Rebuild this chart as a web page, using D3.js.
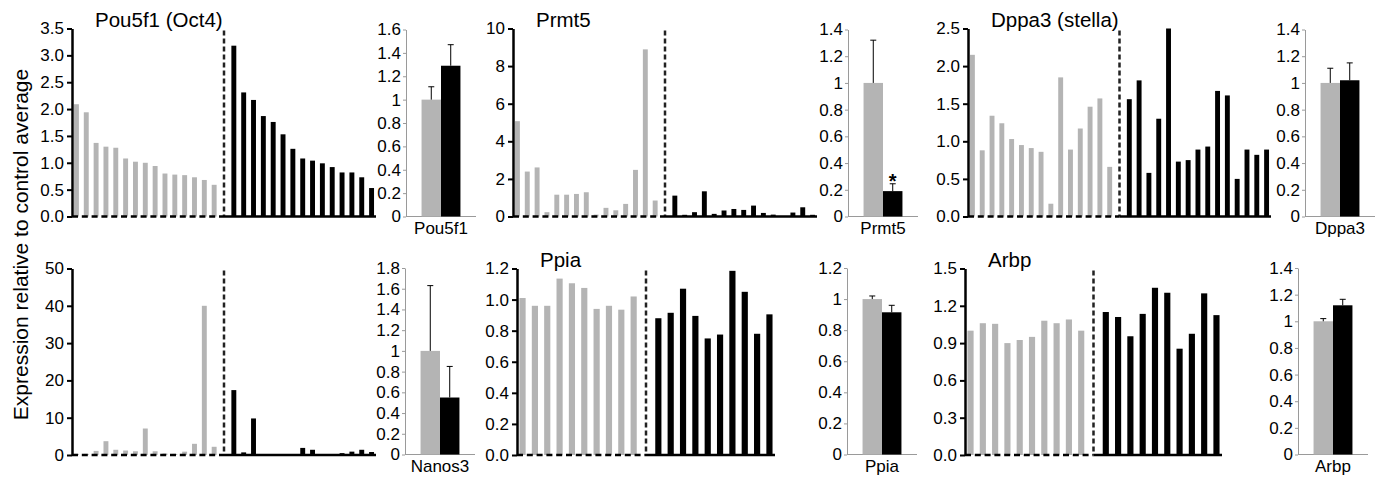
<!DOCTYPE html>
<html>
<head>
<meta charset="utf-8">
<script src="https://cdn.jsdelivr.net/npm/d3@7"></script>
<style>
  body { margin: 0; background: #fff; }
  svg { font-family: "Liberation Sans", Arial, sans-serif; }
</style>
</head>
<body>
<svg id="chart" width="1383" height="480"></svg>
<script>
// ---------------------- data
const genes = ["Pou5f1", "Prmt5", "Dppa3", "Nanos3", "Ppia", "Arbp"];
const titles = ["Pou5f1 (Oct4)", "Prmt5", "Dppa3 (stella)", "", "Ppia", "Arbp"];

const pou5f1Ctrl = [2.09, 1.94, 1.37, 1.30, 1.28, 1.08, 1.02, 1.00, 0.94, 0.80, 0.78, 0.77, 0.73, 0.68, 0.59];
const pou5f1Ko = [3.18, 2.31, 2.17, 1.87, 1.76, 1.53, 1.26, 1.08, 1.04, 0.99, 0.92, 0.82, 0.82, 0.73, 0.53];
const pou5f1Mean = [1.0, 1.29];
const pou5f1Err = [0.11, 0.18];

const prmt5Ctrl = [5.07, 2.39, 2.61, 0.23, 1.16, 1.16, 1.20, 1.29, 0.10, 0.46, 0.33, 0.67, 2.48, 8.89, 0.85];
const prmt5Ko = [1.11, 0.09, 0.23, 1.34, 0.14, 0.32, 0.40, 0.35, 0.58, 0.19, 0.10, 0.02, 0.21, 0.49, 0.09];
const prmt5Mean = [1.0, 0.19];
const prmt5Err = [0.32, 0.055];

const dppa3Ctrl = [2.15, 0.88, 1.34, 1.24, 1.03, 0.95, 0.91, 0.86, 0.17, 1.85, 0.89, 1.17, 1.46, 1.57, 0.66];
const dppa3Ko = [1.56, 1.81, 0.58, 1.30, 2.50, 0.73, 0.75, 0.89, 0.93, 1.67, 1.61, 0.50, 0.89, 0.82, 0.89];
const dppa3Mean = [1.0, 1.02];
const dppa3Err = [0.11, 0.13];

const nanos3Ctrl = [0.3, 0.3, 1.1, 3.7, 1.4, 1.2, 1.0, 7.1, 1.0, 0.4, 0.3, 0.9, 3.0, 40.0, 2.2];
const nanos3Ko = [17.4, 0.7, 9.8, 0, 0, 0.1, 0, 1.9, 1.4, 0, 0, 0.5, 0.9, 1.4, 0.8];
const nanos3Mean = [1.0, 0.55];
const nanos3Err = [0.63, 0.30];

const ppiaCtrl = [1.01, 0.96, 0.96, 1.135, 1.105, 1.075, 0.94, 0.96, 0.935, 1.02];
const ppiaKo = [0.88, 0.915, 1.07, 0.895, 0.75, 0.775, 1.185, 1.05, 0.78, 0.905];
const ppiaMean = [1.0, 0.915];
const ppiaErr = [0.02, 0.045];

const arbpCtrl = [1.00, 1.06, 1.055, 0.90, 0.925, 0.95, 1.08, 1.06, 1.09, 1.00];
const arbpKo = [1.15, 1.11, 0.955, 1.135, 1.345, 1.305, 0.855, 0.975, 1.30, 1.125];
const arbpMean = [1.0, 1.12];
const arbpErr = [0.02, 0.045];

// tick labels
const pou5f1Ticks = [0, 0.5, 1.0, 1.5, 2.0, 2.5, 3.0, 3.5];
const prmt5Ticks = [0, 2, 4, 6, 8, 10];
const dppa3Ticks = [0, 0.5, 1.0, 1.5, 2.0, 2.5];
const nanos3Ticks = [0, 10, 20, 30, 40, 50];
const ppiaTicks = [0, 0.2, 0.4, 0.6, 0.8, 1.0, 1.2];
const arbpTicks = [0, 0.3, 0.6, 0.9, 1.2, 1.5];

const avgTicks14 = [0, 0.2, 0.4, 0.6, 0.8, 1, 1.2, 1.4];
const avgTicks16 = [0, 0.2, 0.4, 0.6, 0.8, 1, 1.2, 1.4, 1.6];
const avgTicks18 = [0, 0.2, 0.4, 0.6, 0.8, 1, 1.2, 1.4, 1.6, 1.8];
const avgTicks12 = [0, 0.2, 0.4, 0.6, 0.8, 1, 1.2];

const starred = ["Prmt5"];

// ---------------------- layout
const GRAY = "#b4b4b4";
const bigRows = [[216.5, 28.5], [455, 268.5]];
const smallRows = [[216.5, 29.5], [454.5, 268]];

const panels = [
  { ctrl: pou5f1Ctrl, ko: pou5f1Ko, mean: pou5f1Mean, err: pou5f1Err, ticks: pou5f1Ticks, fmt: ".1f", sTicks: avgTicks16 },
  { ctrl: prmt5Ctrl, ko: prmt5Ko, mean: prmt5Mean, err: prmt5Err, ticks: prmt5Ticks, fmt: "d", sTicks: avgTicks14 },
  { ctrl: dppa3Ctrl, ko: dppa3Ko, mean: dppa3Mean, err: dppa3Err, ticks: dppa3Ticks, fmt: ".1f", sTicks: avgTicks14 },
  { ctrl: nanos3Ctrl, ko: nanos3Ko, mean: nanos3Mean, err: nanos3Err, ticks: nanos3Ticks, fmt: "d", sTicks: avgTicks18 },
  { ctrl: ppiaCtrl, ko: ppiaKo, mean: ppiaMean, err: ppiaErr, ticks: ppiaTicks, fmt: ".1f", sTicks: avgTicks12 },
  { ctrl: arbpCtrl, ko: arbpKo, mean: arbpMean, err: arbpErr, ticks: arbpTicks, fmt: ".1f", sTicks: avgTicks14 }
];

const frames = [
  { x: 72, end: 376, sx: 406, row: 0 },
  { x: 513, end: 817, sx: 848, row: 0 },
  { x: 968, end: 1271, sx: 1305, row: 0 },
  { x: 72, end: 376, sx: 405, row: 1 },
  { x: 517, end: 775, sx: 847, row: 1 },
  { x: 965, end: 1222, sx: 1298, row: 1 }
];

const svg = d3.select("#chart");

// ---------------------- big per-embryo charts
function drawBig(p, f, title) {
  const g = svg.append("g");
  const n = p.ctrl.length;
  const x = d3.scaleBand()
    .domain(d3.range(2 * n + 1))
    .range([f.x, f.end])
    .paddingInner(0.5)
    .paddingOuter(0.2);
  const y = d3.scaleLinear().domain([0, d3.max(p.ticks)]).range(bigRows[f.row]);

  g.selectAll(".ctrl")
    .data(p.ctrl)
    .join("rect")
    .attr("x", (_, i) => x(i))
    .attr("width", x.bandwidth())
    .attr("y", d => y(d))
    .attr("height", d => y(0) - y(d))
    .attr("fill", GRAY);

  g.selectAll(".ko")
    .data(p.ko)
    .join("rect")
    .attr("x", (_, i) => x(n + 1 + i))
    .attr("width", x.bandwidth())
    .attr("y", d => y(d))
    .attr("height", d => y(0) - y(d))
    .attr("fill", "#000");

  const divX = x(n) + x.bandwidth() / 2;
  g.append("line")
    .attr("x1", divX).attr("x2", divX)
    .attr("y1", y(d3.max(p.ticks)) + 2).attr("y2", y(0))
    .attr("stroke", "#222")
    .attr("stroke-width", 2.5)
    .attr("stroke-dasharray", "5,3");

  // baseline: dashed under controls, solid under mutants
  g.append("line")
    .attr("x1", f.x).attr("x2", divX)
    .attr("y1", y(0)).attr("y2", y(0))
    .attr("stroke", "#000").attr("stroke-width", 2.5)
    .attr("stroke-dasharray", "6,3.8");
  g.append("line")
    .attr("x1", divX).attr("x2", f.end)
    .attr("y1", y(0)).attr("y2", y(0))
    .attr("stroke", "#000").attr("stroke-width", 2.5);

  const ax = g.append("g")
    .attr("transform", `translate(${f.x},0)`)
    .call(d3.axisLeft(y).tickValues(p.ticks).tickFormat(d3.format(p.fmt)).tickSize(5).tickSizeOuter(0).tickPadding(3));
  ax.select(".domain").attr("stroke", "#000").attr("stroke-width", 2.5);
  ax.selectAll(".tick line").attr("stroke", "#000").attr("stroke-width", 2);
  ax.selectAll("text").attr("font-size", 17).attr("fill", "#000").attr("font-family", null);

  if (title) {
    g.append("text")
      .attr("x", f.x + 23)
      .attr("y", bigRows[f.row][1] - 1.5)
      .attr("font-size", 20.5)
      .text(title);
  }
}

// ---------------------- small average charts
function drawSmall(p, f, gene) {
  const g = svg.append("g");
  const x = d3.scaleBand().domain([0, 1]).range([f.sx, f.sx + 70]).paddingInner(0).paddingOuter(0.8);
  const y = d3.scaleLinear().domain([0, d3.max(p.sTicks)]).range(smallRows[f.row]);
  const fmt = v => String(+v.toFixed(1));

  const ax = g.append("g")
    .attr("transform", `translate(${f.sx},0)`)
    .call(d3.axisLeft(y).tickValues(p.sTicks).tickFormat(fmt).tickSize(3).tickSizeOuter(0).tickPadding(2));
  ax.select(".domain").attr("stroke", "#9a9a9a").attr("stroke-width", 1);
  ax.selectAll(".tick line").attr("stroke", "#9a9a9a");
  ax.selectAll("text").attr("font-size", 17).attr("fill", "#000").attr("font-family", null);

  g.append("line")
    .attr("x1", f.sx).attr("x2", f.sx + 70)
    .attr("y1", y(0)).attr("y2", y(0))
    .attr("stroke", "#9a9a9a");

  g.selectAll(".bar")
    .data(p.mean)
    .join("rect")
    .attr("x", (_, i) => x(i))
    .attr("width", x.bandwidth())
    .attr("y", d => y(d))
    .attr("height", d => y(0) - y(d))
    .attr("fill", (_, i) => (i === 0 ? GRAY : "#000"));

  // upper error bars
  p.mean.forEach((m, i) => {
    const cx = x(i) + x.bandwidth() / 2;
    g.append("line")
      .attr("x1", cx).attr("x2", cx)
      .attr("y1", y(m)).attr("y2", y(m + p.err[i]))
      .attr("stroke", "#000");
    g.append("line")
      .attr("x1", cx - 3).attr("x2", cx + 3)
      .attr("y1", y(m + p.err[i])).attr("y2", y(m + p.err[i]))
      .attr("stroke", "#000");
    if (i === 1 && starred.includes(gene)) {
      g.append("text")
        .attr("x", cx)
        .attr("y", y(m + p.err[i]) + 4)
        .attr("text-anchor", "middle")
        .attr("font-size", 20)
        .attr("font-weight", "bold")
        .text("*");
    }
  });

  g.append("text")
    .attr("x", f.sx + 35)
    .attr("y", y(0) + 17.5)
    .attr("text-anchor", "middle")
    .attr("font-size", 17)
    .text(gene);
}

panels.forEach((p, i) => {
  drawBig(p, frames[i], titles[i]);
  drawSmall(p, frames[i], genes[i]);
});

svg.append("text")
  .attr("transform", "translate(27.5,244.5) rotate(-90)")
  .attr("text-anchor", "middle")
  .attr("font-size", 21)
  .text("Expression relative to control average");
</script>
</body>
</html>
